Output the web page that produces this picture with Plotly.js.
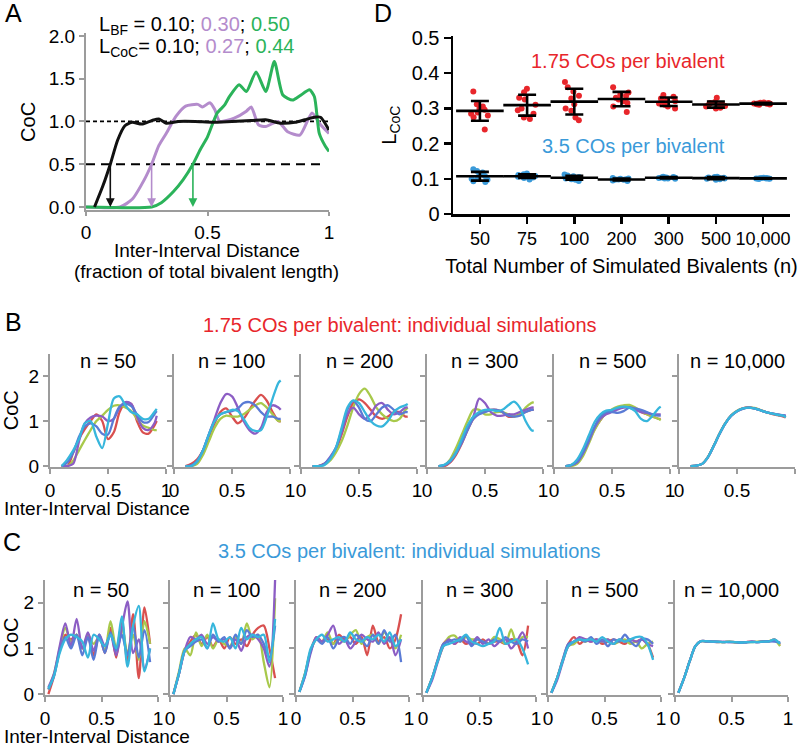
<!DOCTYPE html>
<html>
<head>
<meta charset="utf-8">
<script src="https://cdn.plot.ly/plotly-3.0.1.min.js"></script>
<style>html,body{margin:0;padding:0;background:#fff}</style>
</head>
<body>
<div id="fig" style="width:800px;height:746px"></div>
<script>
// ---- Panel A: CoC curves ----
const aBlackX = [0.035, 0.07, 0.10, 0.13, 0.16, 0.19, 0.23, 0.27, 0.30, 0.33, 0.38, 0.45, 0.52, 0.60, 0.68, 0.74, 0.80, 0.86, 0.90, 0.94, 0.965, 1.0];
const aBlackY = [0, 0.25, 0.5, 0.78, 0.95, 0.99, 0.97, 1.01, 1.03, 0.98, 1.0, 1.0, 0.99, 1.0, 1.01, 1.02, 0.98, 0.99, 1.02, 1.05, 1.05, 0.9];
const aPurpleX = [0, 0.14, 0.19, 0.24, 0.27, 0.30, 0.33, 0.37, 0.41, 0.46, 0.48, 0.51, 0.53, 0.55, 0.61, 0.66, 0.68, 0.71, 0.74, 0.79, 0.83, 0.88, 0.93, 0.96, 1.0];
const aPurpleY = [0, 0, 0.09, 0.32, 0.5, 0.72, 0.86, 1.06, 1.18, 1.2, 1.17, 1.22, 1.14, 1.0, 1.04, 1.12, 1.17, 0.96, 0.94, 1.0, 0.88, 0.84, 1.1, 0.98, 0.86];
const aGreenX = [0, 0.27, 0.31, 0.36, 0.40, 0.44, 0.47, 0.50, 0.54, 0.57, 0.59, 0.63, 0.66, 0.70, 0.74, 0.775, 0.81, 0.85, 0.88, 0.92, 0.94, 0.96, 0.985, 1.0];
const aGreenY = [0, 0, 0.05, 0.18, 0.32, 0.5, 0.67, 0.82, 1.1, 1.19, 1.29, 1.43, 1.35, 1.58, 1.35, 1.70, 1.31, 1.25, 1.3, 1.37, 1.29, 0.86, 0.71, 0.65];
const aRefY = [1.0, 0.5];
const lBF = [0.10, 0.30, 0.50];
const lCoC = [0.10, 0.27, 0.44];

// ---- Panel D: L_CoC per simulation ----
const dCats = ['50', '75', '100', '200', '300', '500', '10,000'];
const dRed = [
  [0.348, 0.312, 0.305, 0.30, 0.296, 0.288, 0.285, 0.28, 0.275, 0.24],
  [0.356, 0.346, 0.33, 0.325, 0.31, 0.30, 0.295, 0.285, 0.274, 0.27],
  [0.375, 0.36, 0.348, 0.336, 0.328, 0.312, 0.30, 0.293, 0.274, 0.266],
  [0.36, 0.345, 0.34, 0.335, 0.33, 0.325, 0.32, 0.315, 0.305, 0.29],
  [0.338, 0.333, 0.328, 0.322, 0.32, 0.318, 0.314, 0.31, 0.305, 0.30],
  [0.33, 0.318, 0.315, 0.312, 0.31, 0.309, 0.307, 0.305, 0.302, 0.30],
  [0.317, 0.316, 0.315, 0.314, 0.314, 0.313, 0.313, 0.312, 0.311, 0.310]
];
const dBlue = [
  [0.127, 0.122, 0.118, 0.112, 0.108, 0.104, 0.10, 0.097, 0.093, 0.091],
  [0.115, 0.113, 0.111, 0.109, 0.108, 0.107, 0.106, 0.104, 0.102, 0.098],
  [0.112, 0.109, 0.107, 0.105, 0.104, 0.103, 0.101, 0.099, 0.097, 0.094],
  [0.102, 0.101, 0.10, 0.099, 0.098, 0.098, 0.097, 0.096, 0.095, 0.094],
  [0.106, 0.105, 0.104, 0.104, 0.103, 0.103, 0.102, 0.101, 0.101, 0.100],
  [0.106, 0.105, 0.104, 0.103, 0.102, 0.102, 0.101, 0.100, 0.099, 0.097],
  [0.103, 0.102, 0.102, 0.101, 0.101, 0.101, 0.101, 0.100, 0.100, 0.100]
];

// ---- Panels B and C: individual simulations (red, lime, purple, blue, cyan) ----
const nLabels = ['n = 50', 'n = 100', 'n = 200', 'n = 300', 'n = 500', 'n = 10,000'];
const xB = [0.10, 0.15, 0.20, 0.25, 0.30, 0.35, 0.40, 0.45, 0.50, 0.55, 0.60, 0.65, 0.70, 0.75, 0.80, 0.85, 0.90, 0.92];
const b50 = [
  [0, 0, 0.3, 0.6, 0.82, 1.0, 1.15, 1.0, 0.6, 0.75, 1.2, 1.4, 1.38, 1.0, 0.75, 0.72, 0.9, 1.0],
  [0, 0, 0.12, 0.35, 0.58, 0.8, 1.0, 1.12, 1.25, 1.34, 1.35, 1.3, 1.22, 1.05, 0.9, 0.85, 0.8, 0.8],
  [0, 0, 0.05, 0.55, 0.95, 1.08, 1.12, 1.1, 1.0, 1.05, 1.3, 1.42, 1.38, 1.1, 0.85, 0.8, 0.95, 1.12],
  [0, 0.08, 0.3, 0.65, 0.88, 0.95, 0.88, 0.72, 0.7, 1.05, 1.32, 1.38, 1.33, 1.15, 0.98, 0.98, 1.15, 1.22],
  [0, 0.15, 0.35, 0.6, 0.95, 1.0, 0.65, 0.4, 0.95, 1.5, 1.55, 1.35, 1.2, 1.15, 1.05, 1.05, 1.2, 1.27]
];
const b100 = [
  [0, 0.05, 0.15, 0.35, 0.65, 0.95, 1.2, 1.28, 1.1, 0.95, 1.05, 1.25, 1.45, 1.58, 1.45, 1.2, 1.0, 1.0],
  [0, 0, 0.05, 0.25, 0.55, 0.85, 1.05, 1.12, 1.1, 1.1, 1.15, 1.25, 1.35, 1.4, 1.3, 1.15, 1.0, 1.0],
  [0, 0, 0.1, 0.35, 0.7, 1.05, 1.4, 1.6, 1.55, 1.3, 1.0, 0.8, 0.72, 0.85, 1.2, 1.35, 1.3, 1.25],
  [0, 0.02, 0.12, 0.35, 0.7, 1.0, 1.15, 1.2, 1.22, 1.28, 1.4, 1.42, 1.35, 1.2, 1.1, 1.1, 1.05, 1.05],
  [0, 0, 0.1, 0.35, 0.7, 1.0, 1.15, 1.2, 1.25, 1.22, 1.05, 0.85, 0.78, 0.8, 1.1, 1.5, 1.85, 1.9]
];
const b200 = [
  [0, 0, 0.05, 0.15, 0.35, 0.7, 1.1, 1.4, 1.48, 1.4, 1.25, 1.1, 1.05, 1.1, 1.2, 1.2, 1.1, 1.1],
  [0, 0, 0.03, 0.12, 0.3, 0.55, 0.9, 1.3, 1.6, 1.72, 1.55, 1.3, 1.15, 1.05, 1.0, 1.05, 1.25, 1.3],
  [0, 0, 0.05, 0.2, 0.4, 0.75, 1.15, 1.3, 1.15, 1.05, 1.15, 1.35, 1.4, 1.25, 1.15, 1.2, 1.3, 1.3],
  [0, 0, 0.05, 0.18, 0.4, 0.8, 1.25, 1.45, 1.3, 1.05, 1.0, 1.15, 1.3, 1.35, 1.25, 1.15, 1.2, 1.2],
  [0, 0, 0.02, 0.15, 0.4, 0.85, 1.3, 1.46, 1.4, 1.2, 1.0, 0.9, 0.88, 1.0, 1.2, 1.3, 1.35, 1.38]
];
const b300 = [
  [0, 0, 0.08, 0.25, 0.5, 0.8, 1.05, 1.18, 1.22, 1.25, 1.25, 1.2, 1.1, 1.1, 1.15, 1.2, 1.25, 1.25],
  [0, 0.02, 0.15, 0.4, 0.7, 1.0, 1.25, 1.25, 1.15, 1.15, 1.2, 1.2, 1.15, 1.1, 1.15, 1.3, 1.4, 1.42],
  [0, 0.02, 0.12, 0.3, 0.55, 0.85, 1.1, 1.5, 1.4, 1.2, 1.12, 1.12, 1.15, 1.15, 1.2, 1.25, 1.3, 1.3],
  [0, 0.02, 0.1, 0.28, 0.52, 0.8, 1.05, 1.15, 1.2, 1.25, 1.25, 1.2, 1.12, 1.1, 1.12, 1.2, 1.25, 1.25],
  [0, 0.03, 0.12, 0.3, 0.6, 0.9, 1.1, 1.2, 1.25, 1.25, 1.22, 1.25, 1.35, 1.43, 1.3, 1.0, 0.8, 0.78]
];
const b500 = [
  [0, 0.02, 0.1, 0.3, 0.55, 0.82, 1.02, 1.18, 1.24, 1.28, 1.32, 1.33, 1.28, 1.2, 1.15, 1.1, 1.05, 1.05],
  [0, 0, 0.05, 0.22, 0.5, 0.8, 1.02, 1.18, 1.26, 1.32, 1.35, 1.36, 1.3, 1.22, 1.15, 1.1, 1.05, 1.02],
  [0, 0.02, 0.08, 0.28, 0.55, 0.85, 1.05, 1.15, 1.2, 1.26, 1.3, 1.3, 1.25, 1.2, 1.18, 1.15, 1.15, 1.15],
  [0, 0.02, 0.1, 0.3, 0.58, 0.88, 1.1, 1.2, 1.2, 1.18, 1.22, 1.3, 1.28, 1.25, 1.2, 1.15, 1.12, 1.12],
  [0, 0.03, 0.15, 0.38, 0.68, 0.98, 1.15, 1.23, 1.25, 1.3, 1.32, 1.3, 1.22, 1.05, 1.0, 1.12, 1.28, 1.32]
];
const b10000 = [
  [0, 0.01, 0.05, 0.2, 0.45, 0.72, 0.95, 1.12, 1.22, 1.28, 1.31, 1.28, 1.24, 1.2, 1.16, 1.13, 1.1, 1.08],
  [0, 0.01, 0.05, 0.21, 0.46, 0.73, 0.96, 1.13, 1.23, 1.28, 1.3, 1.29, 1.25, 1.2, 1.17, 1.14, 1.12, 1.1],
  [0, 0.01, 0.05, 0.2, 0.45, 0.72, 0.95, 1.12, 1.22, 1.28, 1.3, 1.28, 1.24, 1.2, 1.17, 1.15, 1.13, 1.12],
  [0, 0.01, 0.05, 0.2, 0.45, 0.72, 0.95, 1.12, 1.22, 1.27, 1.3, 1.28, 1.24, 1.2, 1.17, 1.14, 1.12, 1.12],
  [0, 0.01, 0.05, 0.2, 0.45, 0.72, 0.95, 1.12, 1.22, 1.28, 1.3, 1.28, 1.24, 1.2, 1.17, 1.14, 1.12, 1.08]
];

const xC = [0.03, 0.08, 0.13, 0.18, 0.23, 0.28, 0.33, 0.38, 0.43, 0.48, 0.53, 0.58, 0.63, 0.68, 0.73, 0.78, 0.83, 0.88, 0.93];
const c50 = [
  [0.0, 0.4, 0.95, 1.3, 1.2, 1.3, 1.0, 1.25, 0.85, 1.3, 0.9, 1.45, 0.8, 1.6, 0.7, 1.75, 0.35, 1.9, 1.1],
  [0.1, 0.45, 1.0, 1.45, 1.15, 1.3, 1.0, 1.3, 1.1, 1.25, 0.95, 1.6, 1.0, 1.5, 0.9, 1.3, 0.75, 1.6, 1.1],
  [0.15, 0.45, 1.05, 1.55, 1.05, 1.65, 1.0, 1.35, 0.95, 1.3, 1.05, 1.3, 0.85, 1.45, 2.03, 0.9, 1.2, 0.55, 1.0],
  [0.1, 0.4, 0.95, 1.25, 1.0, 1.3, 0.85, 1.25, 0.75, 1.3, 0.9, 1.35, 0.95, 1.3, 0.85, 1.5, 0.8, 1.4, 0.7],
  [0.12, 0.4, 0.9, 1.2, 1.3, 1.25, 1.15, 0.8, 1.3, 1.2, 1.05, 1.3, 1.0, 1.7, 0.6, 1.5, 1.93, 0.5, 1.0]
];
const c100 = [
  [0.0, 0.45, 0.95, 1.15, 1.3, 1.1, 1.25, 1.05, 1.2, 1.0, 1.25, 1.1, 1.2, 1.05, 1.3, 1.45, 1.5, 1.0, 0.35],
  [0.0, 0.5, 1.0, 0.85, 1.35, 1.05, 1.3, 1.0, 1.2, 1.1, 1.05, 1.25, 1.1, 1.55, 1.2, 1.3, 0.7, 0.15, 2.1],
  [0.0, 0.45, 0.95, 1.25, 1.2, 1.3, 1.1, 1.25, 1.15, 1.2, 1.0, 1.2, 0.95, 1.25, 1.3, 1.2, 1.0, 0.6, 2.5],
  [0.0, 0.45, 0.95, 1.05, 1.15, 1.2, 1.0, 1.3, 1.15, 1.25, 1.0, 1.3, 1.1, 1.4, 1.25, 1.3, 1.1, 0.8, 1.5],
  [0.0, 0.45, 0.95, 1.1, 1.2, 1.25, 1.0, 1.55, 1.2, 1.15, 1.25, 1.0, 1.45, 1.2, 1.3, 1.25, 1.3, 0.7, 1.65]
];
const c200 = [
  [0.05, 0.45, 0.95, 1.25, 1.15, 1.2, 1.1, 1.3, 1.2, 1.25, 1.1, 1.25, 0.85, 1.5, 1.15, 1.25, 1.0, 1.2, 1.75],
  [0.05, 0.45, 0.95, 1.2, 1.15, 1.35, 1.1, 1.2, 1.15, 1.3, 1.4, 1.1, 1.25, 1.3, 1.1, 1.35, 1.2, 1.0, 1.3],
  [0.05, 0.4, 0.9, 1.25, 1.15, 1.3, 1.5, 1.1, 1.2, 1.0, 1.15, 1.3, 1.2, 1.15, 1.35, 1.1, 1.25, 0.85, 1.2],
  [0.05, 0.4, 0.95, 1.2, 1.1, 1.25, 1.0, 1.2, 1.25, 1.1, 1.3, 1.2, 1.05, 1.3, 1.1, 1.4, 1.15, 1.3, 0.7],
  [0.05, 0.45, 1.0, 1.2, 1.3, 1.15, 1.2, 1.25, 1.15, 1.35, 1.2, 1.15, 1.25, 1.2, 1.3, 1.15, 1.35, 1.05, 1.2]
];
const c300 = [
  [0.03, 0.35, 0.75, 1.1, 1.2, 1.1, 1.2, 1.1, 1.15, 1.1, 1.2, 1.1, 1.15, 1.15, 1.1, 1.2, 1.15, 0.85, 1.5],
  [0.03, 0.35, 0.72, 1.05, 1.25, 1.28, 1.15, 1.25, 1.2, 1.2, 1.15, 1.1, 1.25, 1.2, 1.1, 1.42, 1.1, 1.25, 1.25],
  [0.03, 0.3, 0.7, 1.05, 1.2, 1.1, 1.25, 1.15, 1.1, 1.25, 1.1, 1.2, 1.05, 1.15, 1.2, 1.0, 1.15, 1.35, 1.0],
  [0.03, 0.35, 0.75, 1.1, 1.15, 1.2, 1.15, 1.28, 1.05, 1.2, 1.15, 1.1, 1.2, 1.15, 1.25, 1.15, 1.1, 1.2, 1.15],
  [0.03, 0.35, 0.72, 1.05, 1.1, 1.15, 1.2, 1.3, 1.15, 1.1, 1.05, 1.1, 1.15, 1.45, 1.1, 1.15, 1.2, 1.0, 0.65]
];
const c500 = [
  [0.03, 0.35, 0.75, 1.1, 1.25, 1.1, 1.2, 1.15, 1.2, 1.1, 1.15, 1.2, 1.15, 1.1, 1.2, 1.15, 1.2, 1.1, 0.8],
  [0.03, 0.35, 0.72, 1.05, 1.1, 1.2, 1.15, 1.2, 1.18, 1.15, 1.2, 1.1, 1.15, 1.2, 1.1, 1.15, 1.0, 1.1, 1.15],
  [0.03, 0.3, 0.7, 1.05, 1.15, 1.25, 1.2, 1.15, 1.2, 1.15, 1.2, 1.1, 1.2, 1.15, 1.2, 1.15, 1.2, 1.1, 1.05],
  [0.03, 0.35, 0.75, 1.1, 1.15, 1.2, 1.15, 1.25, 1.1, 1.2, 1.05, 1.2, 1.15, 1.3, 1.15, 1.05, 1.2, 1.2, 1.1],
  [0.03, 0.35, 0.72, 1.05, 1.15, 1.2, 1.18, 1.2, 1.15, 1.25, 1.15, 1.1, 1.2, 1.15, 1.2, 1.25, 1.25, 1.1, 0.75]
];
const c10000 = [
  [0.03, 0.35, 0.72, 1.05, 1.16, 1.16, 1.15, 1.15, 1.14, 1.15, 1.14, 1.13, 1.14, 1.15, 1.14, 1.16, 1.15, 1.2, 1.08],
  [0.03, 0.35, 0.72, 1.05, 1.16, 1.15, 1.15, 1.14, 1.14, 1.15, 1.13, 1.13, 1.14, 1.14, 1.15, 1.15, 1.16, 1.18, 1.05],
  [0.03, 0.35, 0.72, 1.05, 1.16, 1.16, 1.15, 1.14, 1.15, 1.14, 1.14, 1.13, 1.14, 1.15, 1.14, 1.15, 1.15, 1.17, 1.12],
  [0.03, 0.35, 0.72, 1.05, 1.16, 1.15, 1.15, 1.15, 1.14, 1.14, 1.14, 1.13, 1.13, 1.15, 1.14, 1.15, 1.16, 1.15, 1.13],
  [0.03, 0.35, 0.72, 1.05, 1.16, 1.16, 1.15, 1.15, 1.14, 1.15, 1.14, 1.13, 1.14, 1.14, 1.14, 1.15, 1.15, 1.2, 1.1]
];
const bSets = [b50, b100, b200, b300, b500, b10000];
const cSets = [c50, c100, c200, c300, c500, c10000];

// ---- styling ----
const FONT = 'Liberation Sans, Arial, Helvetica, sans-serif';
const GRAY = '#9c9c9c';
const aColors = ['#111111', '#b48ccc', '#2bb35a'];
const simColors = ['#d9504f', '#a8c94b', '#8c5dc4', '#5a7bd5', '#37b6dc'];
const RED = '#e8262b', BLUE = '#3a9ad9';

const W = 800, H = 746;
const px = v => v / W;
const py = v => 1 - v / H;

const traces = [];
const annotations = [];
const layout = {
  width: W, height: H,
  margin: { l: 0, r: 0, t: 0, b: 0 },
  paper_bgcolor: '#fff', plot_bgcolor: 'rgba(0,0,0,0)',
  showlegend: false,
  boxmode: 'overlay',
  font: { family: FONT, size: 20, color: '#000' }
};

// text placed in page pixels
function label(text, x, y, opts) {
  annotations.push(Object.assign({
    xref: 'paper', yref: 'paper', x: px(x), y: py(y),
    xanchor: 'center', yanchor: 'middle', showarrow: false, text: text
  }, opts || {}));
}

function grayAxis(extra) {
  return Object.assign({
    showline: true, linecolor: GRAY, linewidth: 2,
    ticks: 'outside', tickcolor: GRAY, tickwidth: 2, ticklen: 5,
    showgrid: false, zeroline: false, tickfont: { size: 19 }, tickangle: 0
  }, extra);
}

// Panel A
aRefY.forEach((v, i) => {
  traces.push({
    type: 'scatter', mode: 'lines', x: [0, i === 0 ? 1 : 0.97], y: [v, v],
    line: { color: '#000', width: 1.8, dash: i === 0 ? '4px,3px' : '9px,6px' },
    hoverinfo: 'skip'
  });
});
[[aPurpleX, aPurpleY, 1], [aGreenX, aGreenY, 2], [aBlackX, aBlackY, 0]].forEach(([xs, ys, ci]) => {
  traces.push({
    type: 'scatter', mode: 'lines', x: xs, y: ys,
    line: { color: aColors[ci], width: 3, shape: 'spline', smoothing: 0.6 }
  });
});
lCoC.forEach((v, i) => {
  annotations.push({
    x: v, y: 0, ax: v, ay: 0.5, xref: 'x', yref: 'y', axref: 'x', ayref: 'y',
    text: '', showarrow: true, arrowhead: 2, arrowsize: 1.1, arrowwidth: 1.6,
    arrowcolor: aColors[i], standoff: 0
  });
});
const colored = (arr, i) => i === 0 ? arr[i].toFixed(2)
  : '<span style="color:' + aColors[i] + '">' + arr[i].toFixed(2) + '</span>';
label('L<sub>BF</sub> = ' + lBF.map((v, i) => colored(lBF, i)).join('; '), 97, 25, { xanchor: 'left' });
label('L<sub>CoC</sub>= ' + lCoC.map((v, i) => colored(lCoC, i)).join('; '), 97, 47, { xanchor: 'left' });
label('Inter-Interval Distance', 207, 250, { font: { size: 19 } });
label('(fraction of total bivalent length)', 207, 271, { font: { size: 19 } });
layout.xaxis = grayAxis({
  domain: [px(86), px(329)], range: [0, 1], anchor: 'y', tickvals: [0, 0.5, 1], ticklen: 4
});
layout.yaxis = grayAxis({
  domain: [py(210.4), py(33.4)], range: [-0.04, 2.03], anchor: 'x',
  tickvals: [0, 0.5, 1, 1.5, 2], tickformat: '.1f',
  title: { text: 'CoC', font: { size: 20 }, standoff: 8 }
});

// Panel D
function groupTraces(groups, color) {
  const xs = [], ys = [];
  groups.forEach((g, i) => g.forEach(v => { xs.push(dCats[i]); ys.push(v); }));
  const means = groups.map(g => g.reduce((s, v) => s + v, 0) / g.length);
  const sds = groups.map((g, i) => Math.sqrt(g.reduce((s, v) => s + (v - means[i]) ** 2, 0) / (g.length - 1)));
  traces.push({
    type: 'box', x: xs, y: ys, xaxis: 'x2', yaxis: 'y2',
    boxpoints: 'all', jitter: 0.9, pointpos: 0,
    marker: { color: color, size: 6 },
    line: { width: 0, color: 'rgba(0,0,0,0)' }, fillcolor: 'rgba(0,0,0,0)',
    hoverinfo: 'y'
  });
  traces.push({
    type: 'scatter', mode: 'markers', x: dCats, y: means, xaxis: 'x2', yaxis: 'y2',
    marker: { symbol: 'line-ew', size: 34, color: '#000', line: { width: 2.6, color: '#000' } },
    error_y: { type: 'data', array: sds, visible: true, color: '#000', thickness: 2.6, width: 9 }
  });
}
groupTraces(dRed, RED);
groupTraces(dBlue, BLUE);
layout.xaxis2 = {
  domain: [px(453), px(790)], anchor: 'y2', type: 'category', categoryarray: dCats,
  range: [-0.57, 6.57], showline: true, linecolor: '#000', linewidth: 2.5,
  ticks: 'outside', tickcolor: '#000', tickwidth: 2.5, ticklen: 7, showgrid: false, zeroline: false,
  tickfont: { size: 18 }, tickangle: 0,
  title: { text: 'Total Number of Simulated Bivalents (n)', font: { size: 20 }, standoff: 11 }
};
layout.yaxis2 = {
  domain: [py(214), py(36.2)], anchor: 'x2', range: [0, 0.505], dtick: 0.1, tick0: 0,
  showline: true, linecolor: '#000', linewidth: 2.5,
  ticks: 'outside', tickcolor: '#000', tickwidth: 2.5, ticklen: 7, showgrid: false, zeroline: false,
  tickfont: { size: 20 },
  title: { text: 'L<sub>CoC</sub>', font: { size: 20 }, standoff: 10 }
};
label('1.75 COs per bivalent', 628, 61, { font: { color: RED, size: 20 } });
label('3.5 COs per bivalent', 633, 146, { font: { color: BLUE, size: 20 } });

// Panels B and C
const bX0 = [50, 174, 301, 427, 554, 679];
const cX0 = [45, 170, 296, 423, 548, 675];
function simRow(sets, xGrid, x0s, width, yTop, yBot, firstIdx, titleY) {
  sets.forEach((set, k) => {
    const idx = firstIdx + k;
    set.forEach((ys, s) => {
      traces.push({
        type: 'scatter', mode: 'lines', x: xGrid, y: ys, xaxis: 'x' + idx, yaxis: 'y' + idx,
        line: { color: simColors[s], width: 2.3, shape: 'spline', smoothing: 0.8 }
      });
    });
    layout['xaxis' + idx] = grayAxis({
      domain: [px(x0s[k]), px(x0s[k] + width)], range: [0, 1], anchor: 'y' + idx, tickvals: [0, 0.5, 1]
    });
    layout['yaxis' + idx] = grayAxis({
      domain: [py(yBot), py(yTop)], range: [-0.02, 2.5], anchor: 'x' + idx, tickvals: [0, 1, 2],
      showticklabels: k === 0,
      title: k === 0 ? { text: 'CoC', font: { size: 20 }, standoff: 6 } : undefined
    });
    label(nLabels[k], x0s[k] + width / 2, titleY);
  });
}
simRow(bSets, xB, bX0, 116, 353.5, 467, 3, 361);
simRow(cSets, xC, cX0, 113, 580, 695, 9, 590);
label('Inter-Interval Distance', 2, 508, { xanchor: 'left', font: { size: 19 } });
label('Inter-Interval Distance', 2, 736, { xanchor: 'left', font: { size: 19 } });
label('1.75 COs per bivalent: individual simulations', 400, 325, { font: { color: RED, size: 20 } });
label('3.5 COs per bivalent: individual simulations', 409, 551, { font: { color: BLUE, size: 20 } });

// panel letters
[['A', 3, 13], ['D', 372, 13], ['B', 3, 322], ['C', 1, 542]].forEach(([t, x, y]) => {
  label(t, x, y, { xanchor: 'left', font: { size: 25 } });
});

layout.annotations = annotations;
Plotly.newPlot('fig', traces, layout, { staticPlot: true });
</script>
</body>
</html>
